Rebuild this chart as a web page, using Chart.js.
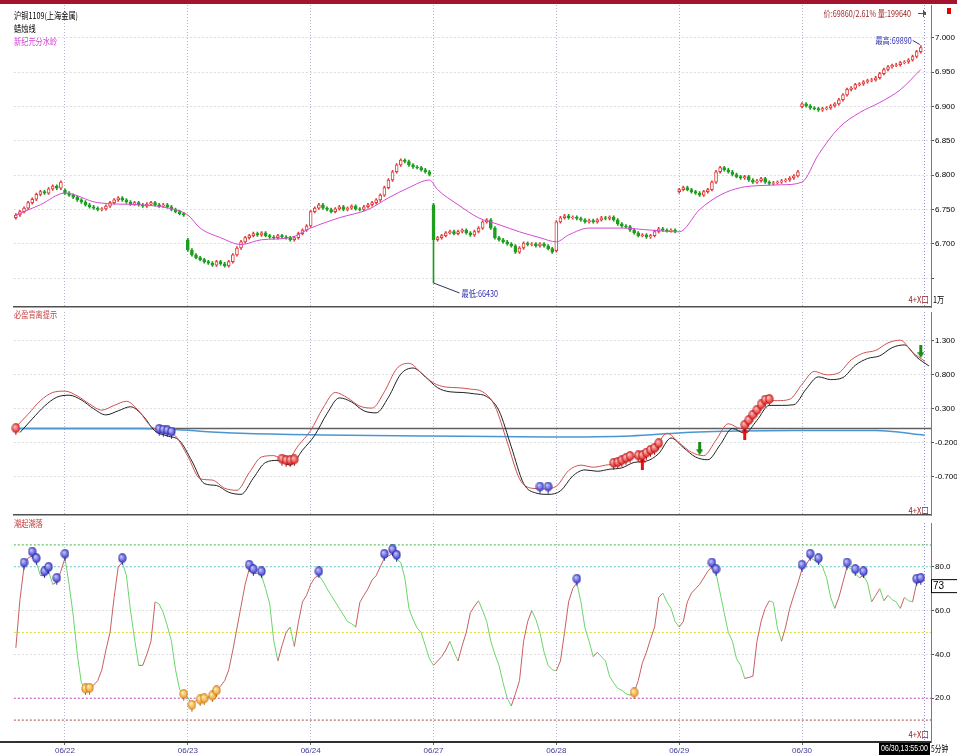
<!DOCTYPE html>
<html>
<head>
<meta charset="utf-8">
<script src="https://cdn.jsdelivr.net/npm/chart.js@4.4.0/dist/chart.umd.min.js"></script>
<style>
html, body { margin: 0; padding: 0; background: #fff; }
#wrap { position: relative; width: 957px; height: 756px; overflow: hidden; background: #fff; }
#topbar { position: absolute; left: 0; top: 0; width: 957px; height: 4px; background: #a4142e; }
canvas { position: absolute; left: 0; }
#c1 { top: 5px; } #c2 { top: 307px; } #c3 { top: 518px; }
#axl { position: absolute; left: 0; top: 741px; width: 15px; height: 2px; background: #333; }
</style>
</head>
<body>
<div id="wrap">
  <div id="topbar"></div>
  <canvas id="c1" width="957" height="304"></canvas>
  <canvas id="c2" width="957" height="213"></canvas>
  <canvas id="c3" width="957" height="238"></canvas>
  <div id="axl"></div>
</div>
<script>
// days shown on the time axis (first bar of each day)
const dates = ['06/22', '06/23', '06/24', '06/27', '06/28', '06/29', '06/30'];
const dayStart = [12, 42, 72, 102, 132, 162, 192];
const cursorBar = 222;

// candle closes, one array per trading day (06/21 is partial)
const dayOpen = [67380, 67780, 67060, 67260, 67570, 66900, 67760, 69000];
const c0621 = [67420, 67470, 67520, 67600, 67650, 67720, 67760, 67740, 67800, 67840, 67810, 67900];
const c0622 = [67740, 67710, 67680, 67640, 67610, 67570, 67540, 67520, 67500, 67510, 67550, 67600, 67640, 67670, 67640, 67610, 67580, 67600, 67570, 67550, 67580, 67600, 67570, 67550, 67570, 67540, 67500, 67470, 67440, 67420];
const c0623 = [66910, 66840, 66800, 66770, 66740, 66720, 66690, 66740, 66710, 66680, 66740, 66840, 66940, 67030, 67090, 67120, 67150, 67130, 67160, 67120, 67100, 67090, 67120, 67100, 67090, 67060, 67090, 67150, 67200, 67260];
const c0624 = [67470, 67520, 67570, 67520, 67500, 67470, 67510, 67540, 67500, 67520, 67550, 67510, 67500, 67540, 67570, 67600, 67640, 67710, 67820, 67930, 68050, 68150, 68220, 68200, 68150, 68120, 68110, 68080, 68050, 68010];
const c0627 = [67060, 67090, 67120, 67160, 67180, 67150, 67180, 67200, 67160, 67130, 67180, 67230, 67320, 67350, 67230, 67090, 67060, 67030, 67000, 66970, 66880, 66940, 67010, 66990, 67000, 66970, 67000, 66970, 66930, 66880];
const c0628 = [67320, 67380, 67410, 67380, 67390, 67370, 67350, 67320, 67340, 67320, 67350, 67380, 67370, 67390, 67350, 67290, 67260, 67250, 67200, 67160, 67120, 67130, 67100, 67120, 67180, 67220, 67200, 67190, 67200, 67180];
const c0629 = [67790, 67820, 67790, 67760, 67740, 67710, 67760, 67790, 67900, 68050, 68110, 68080, 68050, 68010, 67980, 67960, 67980, 67930, 67900, 67920, 67950, 67900, 67880, 67890, 67900, 67920, 67930, 67960, 67990, 68050];
const c0630 = [69040, 69010, 68980, 68970, 68950, 68970, 68980, 69010, 69040, 69100, 69170, 69250, 69270, 69320, 69330, 69360, 69380, 69390, 69420, 69480, 69540, 69580, 69600, 69610, 69640, 69650, 69680, 69730, 69800, 69860];
const lowMark = [102, 66430];
const highMark = [221, 69890];
const lastInfo = '价:69860/2.61% 量:199640';

// 新纪元分水岭 (magenta average line), read at sparse bars
const maIdx = [0, 6, 12, 20, 30, 37, 42, 45, 50, 55, 60, 67, 72, 79, 86, 91, 96, 101, 103, 108, 113, 118, 123, 128, 132, 135, 140, 148, 155, 162, 167, 172, 177, 182, 187, 192, 196, 201, 206, 211, 216, 221];
const maVal = [67420, 67570, 67740, 67600, 67570, 67525, 67420, 67230, 67090, 66990, 67060, 67090, 67230, 67380, 67500, 67670, 67820, 67930, 67790, 67570, 67380, 67280, 67175, 67090, 67030, 67130, 67230, 67230, 67200, 67175, 67500, 67710, 67820, 67850, 67860, 67900, 68300, 68690, 68910, 69060, 69245, 69540];

// 必盈背离提示 lines, every 3rd bar
const STEP = 3;
const redLine = [0.03, 0.22, 0.42, 0.54, 0.56, 0.49, 0.37, 0.28, 0.35, 0.41, 0.27, 0.04, -0.03, -0.10, -0.40, -0.73, -0.75, -0.87, -0.90, -0.64, -0.41, -0.39, -0.47, -0.24, -0.02, 0.31, 0.54, 0.46, 0.34, 0.31, 0.55, 0.89, 0.97, 0.83, 0.68, 0.62, 0.61, 0.59, 0.55, 0.34, -0.19, -0.73, -0.87, -0.88, -0.84, -0.61, -0.53, -0.56, -0.53, -0.50, -0.41, -0.40, -0.29, -0.06, -0.20, -0.34, -0.39, -0.16, 0.08, 0.01, 0.21, 0.42, 0.42, 0.44, 0.66, 0.85, 0.80, 0.83, 1.02, 1.12, 1.16, 1.27, 1.31, 1.13, 1.00];
const blackLine = [-0.05, 0.15, 0.34, 0.47, 0.50, 0.43, 0.30, 0.21, 0.27, 0.33, 0.20, -0.03, -0.10, -0.17, -0.47, -0.80, -0.83, -0.93, -0.96, -0.72, -0.49, -0.46, -0.53, -0.31, -0.09, 0.23, 0.46, 0.40, 0.27, 0.24, 0.47, 0.81, 0.90, 0.77, 0.61, 0.55, 0.54, 0.52, 0.48, 0.27, -0.26, -0.80, -0.94, -0.96, -0.91, -0.69, -0.60, -0.62, -0.59, -0.57, -0.49, -0.47, -0.36, -0.13, -0.27, -0.41, -0.45, -0.23, 0.01, -0.06, 0.13, 0.35, 0.35, 0.36, 0.59, 0.77, 0.73, 0.76, 0.94, 1.04, 1.08, 1.20, 1.24, 1.06, 0.93];
const blueIdx = [0, 30, 38, 45, 55, 75, 100, 130, 150, 165, 190, 210, 222];
const blueVal = [0.01, 0.01, 0.0, -0.03, -0.06, -0.085, -0.10, -0.115, -0.10, -0.045, -0.02, -0.02, -0.09];
const zeroLevel = 0.01;
const midBlue = [[35, -0.01], [36, -0.02], [37, -0.03], [38, -0.05], [128, -0.86], [130, -0.86]];
const midRed = [[0, 0.0], [65, -0.45], [66, -0.47], [67, -0.47], [68, -0.46], [146, -0.51], [147, -0.50], [148, -0.47], [149, -0.44], [150, -0.41], [152, -0.40], [153, -0.40], [154, -0.36], [155, -0.32], [156, -0.29], [157, -0.22], [178, 0.05], [179, 0.12], [180, 0.20], [181, 0.27], [182, 0.35], [183, 0.42], [184, 0.43]];
const midUp = [[153, -0.50], [178, -0.06]];
const midDown = [[167, -0.29], [221, 1.14]];

// 潮起潮落, one value per bar
const kd0621 = [43, 65, 80, 84, 85, 82, 76, 76, 78, 72, 73, 78];
const kd0622 = [84, 72, 58, 40, 27, 24.5, 24.8, 26, 28, 33, 42, 50, 66, 80, 82, 76, 60, 47, 35, 35, 40, 46, 64, 63, 59, 53, 46, 33, 24, 22];
const kd0623 = [20.5, 17, 19, 19.5, 20, 20.5, 21.3, 23.6, 25.5, 28, 33, 42, 52, 62, 72, 79, 77, 77, 76, 70, 63, 46, 37, 44, 50, 52.5, 43.6, 54.7, 64, 67];
const kd0624 = [72, 75, 76, 73.5, 70, 67, 64, 61, 58, 55, 54, 52.5, 63.7, 67, 70, 74, 76, 80, 84, 85, 86, 83.5, 82, 75, 61, 56, 52, 50, 44, 38];
const kd0627 = [35, 37, 39, 42, 46, 41, 37, 44, 50, 59, 62, 64.5, 60, 55, 46, 40, 35, 27, 20, 16.5, 22, 28, 46, 55, 60, 56, 50, 41, 35, 33];
const kd0628 = [32.5, 37, 50, 64, 70, 72.6, 64, 52, 46, 39, 41, 39, 37, 30, 27, 24.5, 23.6, 22, 21.4, 22.7, 28, 36, 41, 47, 52.5, 66, 68, 64, 61, 55];
const kd0629 = [52.5, 55, 64, 68, 70, 72, 75, 78, 80, 77, 68, 59, 50, 46, 38, 35, 29, 29.5, 30, 46, 55, 61, 64.5, 63.7, 52, 46, 52.5, 61, 67, 72.6];
const kd0630 = [79, 81, 84, 83, 82, 80, 75, 66, 61, 66, 73, 80, 79, 77, 75, 76, 72.6, 64, 67, 70, 64.5, 67, 65, 64, 61, 66, 64.5, 64, 72.6, 73];
const kdPeaks = [2, 4, 5, 7, 8, 10, 12, 26, 57, 58, 60, 74, 90, 92, 93, 137, 170, 171, 192, 194, 196, 203, 205, 207, 220, 221];
const kdTroughs = [17, 18, 41, 43, 45, 46, 48, 49, 151];
const kdLevels = [90, 80, 50, 20, 10];
const kdLevelColors = ['#3cb43c', '#64d2dc', '#dcdc3c', '#d24bd2', '#a04646'];

// axis ticks
const priceTicks = [66500, 67000, 67500, 68000, 68500, 69000, 69500, 70000];
const macdTicks = [-0.7, -0.2, 0.3, 0.8, 1.3];
const kdTicks = [20, 40, 60, 80];

const NARROW = '"Liberation Sans Narrow", "Liberation Sans", Arial, sans-serif';
const CJK = '"Noto Sans CJK SC", "Noto Sans", sans-serif';
const RED = '#e03c3c', GREEN = '#1e9e1e';
const WICK = 20;
const X_MIN = -0.5, X_MAX = 223.5;

const closes = [].concat(c0621, c0622, c0623, c0624, c0627, c0628, c0629, c0630);
const starts = [0].concat(dayStart);
const opens = closes.map((c, i) => {
  const d = starts.indexOf(i);
  return d >= 0 ? dayOpen[d] : closes[i - 1];
});
const isUp = closes.map((c, i) => c >= opens[i]);
const body = closes.map((c, i) => ({ x: i, y: opens[i] === c ? [c - 4, c + 4] : [opens[i], c] }));
const wick = closes.map((c, i) => {
  let lo = Math.min(opens[i], c) - WICK, hi = Math.max(opens[i], c) + WICK;
  if (i === lowMark[0]) lo = lowMark[1];
  if (i === highMark[0]) hi = highMark[1];
  return { x: i, y: [lo, hi] };
});
const kd = [].concat(kd0621, kd0622, kd0623, kd0624, kd0627, kd0628, kd0629, kd0630);

function ball(light, dark, edge) {
  const c = document.createElement('canvas');
  c.width = 9; c.height = 12;
  const g = c.getContext('2d');
  const gr = g.createRadialGradient(3.2, 3.4, 0.3, 4.5, 5, 5);
  gr.addColorStop(0, light);
  gr.addColorStop(1, dark);
  g.fillStyle = gr;
  g.beginPath(); g.ellipse(4.5, 5, 3.7, 4.4, 0, 0, Math.PI * 2); g.fill();
  g.strokeStyle = edge; g.lineWidth = 0.6; g.stroke();
  g.fillStyle = edge; g.fillRect(4, 9.4, 1, 2.3);
  return c;
}
function arrow(color, down) {
  const c = document.createElement('canvas');
  c.width = 7; c.height = 13;
  const g = c.getContext('2d');
  g.fillStyle = color;
  g.beginPath();
  if (down) { g.fillRect(2, 0, 3, 8); g.moveTo(0, 7); g.lineTo(7, 7); g.lineTo(3.5, 13); }
  else { g.fillRect(2, 5, 3, 8); g.moveTo(0, 6); g.lineTo(7, 6); g.lineTo(3.5, 0); }
  g.fill();
  return c;
}
const blueBall = ball('#c8c8ff', '#2828c8', '#1a1a90');
const redBall = ball('#ffc0c0', '#e01010', '#a00000');
const orangeBall = ball('#fff0b0', '#f09010', '#b06000');
const upArrow = arrow('#e81010', false);
const downArrow = arrow('#1a8a1a', true);

function markers(pts, img) {
  return { type: 'line', data: pts.map(p => ({ x: p[0], y: p[1] })), showLine: false,
    pointStyle: img, pointRadius: 4, order: 0, clip: false };
}
function level(v, color) {
  return { type: 'line', data: [{ x: X_MIN, y: v }, { x: X_MAX, y: v }], borderColor: color,
    borderWidth: 1, borderDash: [2, 2], pointRadius: 0, order: 5 };
}

function xScale(showLabels, h, borderColor, borderWidth) {
  return {
    type: 'linear', min: X_MIN, max: X_MAX, offset: false,
    afterBuildTicks: s => { s.ticks = dayStart.concat([cursorBar]).map(v => ({ value: v })); },
    afterFit: s => { s.height = h; s.paddingLeft = 0; s.paddingRight = 0; },
    ticks: { display: showLabels, autoSkip: false, maxRotation: 0, padding: 1, color: '#3c3c96',
      font: { family: NARROW, size: 8 },
      callback: v => { const k = dayStart.indexOf(v); return k >= 0 ? dates[k] : ''; } },
    grid: { color: c => (c.tick && c.tick.value === cursorBar) ? '#8c8cd2' : '#b4b4cc', lineWidth: 1,
      drawTicks: showLabels, tickLength: 3, tickColor: '#666', tickBorderDash: [], offset: false,
      borderDash: [1, 2] },
    border: { display: true, color: borderColor, width: borderWidth, dash: [1, 2] }
  };
}
function yScale(min, max, tickVals, fmt) {
  return {
    position: 'right', min: min, max: max,
    afterBuildTicks: s => { s.ticks = tickVals.map(v => ({ value: v })); },
    afterFit: s => { s.width = 26; s.paddingTop = 0; s.paddingBottom = 0; },
    ticks: { color: '#000', font: { family: NARROW, size: 8 }, padding: 1, autoSkip: false, callback: fmt },
    grid: { color: '#dcdcdc', drawTicks: true, tickLength: 3, tickColor: '#555', tickBorderDash: [], borderDash: [2, 2] },
    border: { display: true, color: '#7a7a7a', width: 1, dash: [2, 2] }
  };
}
function baseOptions(scales) {
  return {
    responsive: false, animation: false, events: [],
    layout: { padding: { left: 13.8, right: 0, top: 0, bottom: 0 } },
    plugins: { legend: { display: false }, tooltip: { enabled: false } },
    scales: scales
  };
}
function txt(ctx, s, x, y, color, size, align, sx, family) {
  ctx.save();
  ctx.font = size + 'px ' + (family || CJK);
  ctx.fillStyle = color;
  ctx.textBaseline = 'middle';
  ctx.textAlign = align || 'left';
  ctx.translate(x, y);
  ctx.scale(sx || 1, 1);
  ctx.fillText(s, 0, 0);
  ctx.restore();
}
function seg(ctx, x1, y1, x2, y2, color) {
  ctx.save();
  ctx.strokeStyle = color; ctx.lineWidth = 1;
  ctx.beginPath(); ctx.moveTo(x1, y1); ctx.lineTo(x2, y2); ctx.stroke();
  ctx.restore();
}

const topText = {
  id: 'topText',
  afterDraw(chart) {
    const { ctx, scales: { x, y } } = chart;
    txt(ctx, '沪铜1109(上海金属)', 14, 11, '#000', 9, 'left', 0.8);
    txt(ctx, '蜡烛线', 14, 24, '#000', 9, 'left', 0.8);
    txt(ctx, '新纪元分水岭', 14, 37, '#d040d0', 9, 'left', 0.8);
    txt(ctx, lastInfo, 911, 9, '#a02828', 9, 'right', 0.8);
    ctx.fillStyle = '#555';
    ctx.fillRect(918, 8, 5, 1); ctx.fillRect(923, 5, 1, 7); ctx.fillRect(924, 7, 2, 3);
    ctx.fillStyle = '#e00000';
    ctx.fillRect(947, 3, 4, 6);
    const hx = x.getPixelForValue(highMark[0]), hy = y.getPixelForValue(highMark[1]);
    seg(ctx, hx - 1, hy - 1, hx - 8, hy - 5, '#3030a0');
    txt(ctx, '最高:' + highMark[1], hx - 9, hy - 5, '#3030b0', 9, 'right', 0.8);
    const lx = x.getPixelForValue(lowMark[0]), ly = y.getPixelForValue(lowMark[1]);
    seg(ctx, lx, ly, lx + 26, ly + 10, '#303060');
    txt(ctx, '最低:' + lowMark[1], lx + 28, ly + 11, '#3030b0', 9, 'left', 0.8);
    txt(ctx, '4+X口', 929, 295, '#8c1c1c', 9, 'right', 0.85);
    txt(ctx, '1万', 933, 295, '#000', 9, 'left', 0.8);
  }
};
const midText = {
  id: 'midText',
  afterDraw(chart) {
    const ctx = chart.ctx;
    txt(ctx, '必盈背离提示', 14, 8, '#c83c3c', 9, 'left', 0.8);
    txt(ctx, '4+X口', 929, 204, '#8c1c1c', 9, 'right', 0.85);
  }
};
const lowText = {
  id: 'lowText',
  afterDraw(chart) {
    const { ctx, scales: { y } } = chart;
    txt(ctx, '潮起潮落', 14, 6, '#c83c3c', 9, 'left', 0.8);
    txt(ctx, '4+X口', 929, 217, '#8c1c1c', 9, 'right', 0.85);
    const last = kd[kd.length - 1];
    const py = y.getPixelForValue(last) - 2;
    ctx.save();
    ctx.fillStyle = '#fff'; ctx.strokeStyle = '#000'; ctx.lineWidth = 1;
    ctx.fillRect(931, py - 1, 26, 14); ctx.strokeRect(931.5, py - 0.5, 26, 13);
    ctx.restore();
    txt(ctx, String(Math.round(last)), 933, py + 6, '#000', 10, 'left', 1, NARROW);
    ctx.fillStyle = '#000';
    ctx.fillRect(879, 225, 51, 12);
    txt(ctx, '06/30,13:55:00', 904.5, 231, '#fff', 9, 'center', 0.78, NARROW);
    txt(ctx, '5分钟', 931, 231, '#000', 9, 'left', 0.75);
  }
};

new Chart(document.getElementById('c1'), {
  type: 'bar',
  data: { datasets: [
    { type: 'line', data: maIdx.map((v, k) => ({ x: v, y: maVal[k] })), borderColor: '#d24bd2', borderWidth: 1,
      pointRadius: 0, cubicInterpolationMode: 'monotone', order: 1 },
    { data: body, backgroundColor: c => isUp[c.dataIndex] ? '#fff' : GREEN,
      borderColor: c => isUp[c.dataIndex] ? RED : GREEN, borderWidth: 1, borderSkipped: false,
      barThickness: 3, grouped: false, order: 2 },
    { data: wick, backgroundColor: c => isUp[c.dataIndex] ? RED : GREEN, borderWidth: 0,
      barThickness: 1, grouped: false, order: 3 }
  ] },
  options: baseOptions({
    x: xScale(false, 2, '#505050', 1.5),
    y: yScale(66080, 70480, priceTicks, v => v >= 67000 ? (v / 10000).toFixed(3) : '')
  }),
  plugins: [topText]
});

new Chart(document.getElementById('c2'), {
  type: 'line',
  data: { datasets: [
    markers(midRed, redBall), markers(midBlue, blueBall), markers(midUp, upArrow), markers(midDown, downArrow),
    { data: redLine.map((v, k) => ({ x: k * STEP, y: v })), borderColor: '#d05050', borderWidth: 1,
      pointRadius: 0, cubicInterpolationMode: 'monotone', order: 1 },
    { data: blackLine.map((v, k) => ({ x: k * STEP + 1, y: v })), borderColor: '#202020', borderWidth: 1,
      pointRadius: 0, cubicInterpolationMode: 'monotone', order: 2 },
    { data: blueIdx.map((v, k) => ({ x: v, y: blueVal[k] })), borderColor: '#4a96d2', borderWidth: 1.5,
      pointRadius: 0, cubicInterpolationMode: 'monotone', order: 3 },
    { data: [{ x: X_MIN, y: zeroLevel }, { x: X_MAX, y: zeroLevel }], borderColor: '#606060', borderWidth: 1.5,
      pointRadius: 0, order: 4 }
  ] },
  options: baseOptions({
    x: xScale(false, 2, '#505050', 1.5),
    y: yScale(-1.264, 1.725, macdTicks, v => v.toFixed(3))
  }),
  plugins: [midText]
});

new Chart(document.getElementById('c3'), {
  type: 'line',
  data: { datasets: [
    markers(kdPeaks.map(i => [i, kd[i] + 1.5]), blueBall),
    markers(kdTroughs.map(i => [i, kd[i] - 0.5]), orangeBall),
    { data: kd.map((v, i) => ({ x: i, y: v })), borderWidth: 1, pointRadius: 0, order: 1,
      borderColor: '#c86060',
      segment: { borderColor: c => c.p1.parsed.y >= c.p0.parsed.y ? '#c86060' : '#6cd46c' } }
  ].concat(kdLevels.map((v, k) => level(v, kdLevelColors[k]))) },
  options: baseOptions({
    x: xScale(true, 14, '#303030', 2),
    y: yScale(0, 100, kdTicks, v => v.toFixed(1))
  }),
  plugins: [lowText]
});
</script>
</body>
</html>
